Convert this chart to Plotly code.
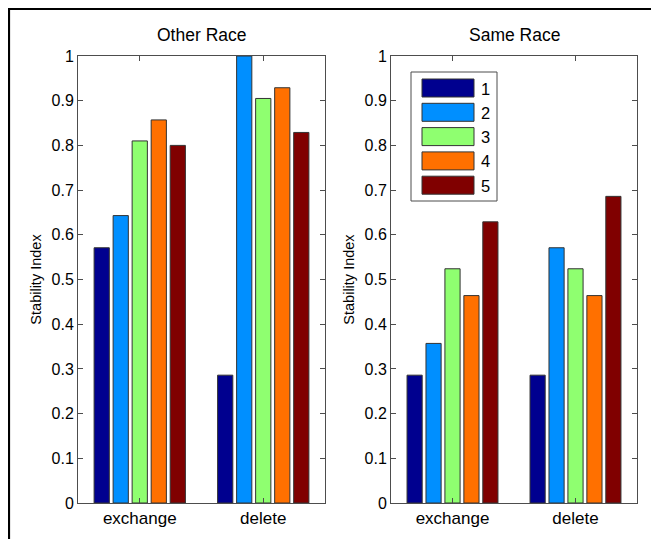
import plotly.graph_objects as go

W, H = 659, 539
OFF = 8  # page body margin: screen = paper + 8

categories = ["exchange", "delete"]
series_names = ["1", "2", "3", "4", "5"]
colors = ["#00008F", "#008FFF", "#8FFF70", "#FF7000", "#800000"]

other_race = {
    "1": [0.571, 0.286],
    "2": [0.643, 1.000],
    "3": [0.810, 0.905],
    "4": [0.857, 0.929],
    "5": [0.800, 0.829],
}
same_race = {
    "1": [0.286, 0.286],
    "2": [0.357, 0.571],
    "3": [0.524, 0.524],
    "4": [0.464, 0.464],
    "5": [0.629, 0.686],
}

titles = ["Other Race", "Same Race"]
ytick_vals = [0, 0.1, 0.2, 0.3, 0.4, 0.5, 0.6, 0.7, 0.8, 0.9, 1]
ytick_text = ["0", "0.1", "0.2", "0.3", "0.4", "0.5", "0.6", "0.7", "0.8", "0.9", "1"]

FONT = "Liberation Sans, Arial, sans-serif"
AX = "#4d4d4d"


def px(x):
    return (x - OFF) / W


def py(y):
    return 1 - (y - OFF) / H


fig = go.Figure()

for i, name in enumerate(series_names):
    fig.add_trace(go.Bar(x=categories, y=other_race[name], name=name,
                         marker=dict(color=colors[i], line=dict(color="#333333", width=1)),
                         xaxis="x", yaxis="y", showlegend=False, hoverinfo="skip"))
for i, name in enumerate(series_names):
    fig.add_trace(go.Bar(x=categories, y=same_race[name], name=name,
                         marker=dict(color=colors[i], line=dict(color="#333333", width=1)),
                         xaxis="x2", yaxis="y2", showlegend=False, hoverinfo="skip"))

top, bottom = 56, 503
xdoms = [(78, 325), (391, 637)]

axis_common = dict(showline=True, linecolor=AX, linewidth=1, mirror="ticks",
                   ticks="inside", ticklen=5, tickcolor=AX, showgrid=False, zeroline=False,
                   automargin=False)

layout = dict(
    template="none",
    width=W, height=H, margin=dict(l=0, r=0, t=0, b=0, pad=0, autoexpand=False),
    paper_bgcolor="white", plot_bgcolor="white",
    barmode="group", bargap=0.23, bargroupgap=0.2,
    showlegend=False,
)
for k, (x0, x1) in enumerate(xdoms):
    sfx = "" if k == 0 else str(k + 1)
    layout["xaxis" + sfx] = dict(domain=[px(x0), px(x1)], anchor="y" + sfx,
                                 type="category", range=[-0.5, 1.5],
                                 tickfont=dict(family=FONT, size=17, color="#000"),
                                 **axis_common)
    layout["yaxis" + sfx] = dict(domain=[py(bottom), py(top)], anchor="x" + sfx,
                                 range=[0, 1], tickvals=ytick_vals, ticktext=ytick_text,
                                 tickfont=dict(family=FONT, size=16, color="#000"),
                                 title=dict(text="Stability Index", standoff=6,
                                            font=dict(family=FONT, size=14.5, color="#000")),
                                 **axis_common)
fig.update_layout(**layout)

annotations = []
for k, (x0, x1) in enumerate(xdoms):
    annotations.append(dict(text=titles[k], x=px((x0 + x1) / 2), y=py(35.5), xref="paper", yref="paper",
                            showarrow=False, xanchor="center", yanchor="middle",
                            font=dict(family=FONT, size=17.5, color="#000")))

shapes = []
# figure border (top and left)
shapes.append(dict(type="line", xref="paper", yref="paper", x0=0, x1=1, y0=1 - 1 / H, y1=1 - 1 / H,
                   line=dict(color="black", width=2.2)))
shapes.append(dict(type="line", xref="paper", yref="paper", x0=1 / W, x1=1 / W, y0=1, y1=0,
                   line=dict(color="black", width=2.2)))

# custom legend
shapes.append(dict(type="rect", xref="paper", yref="paper", x0=px(411), x1=px(497), y0=py(201), y1=py(72),
                   line=dict(color=AX, width=1), fillcolor="white", layer="above"))
entry_tops = [79, 103.3, 127.6, 151.9, 176.2]
for i, name in enumerate(series_names):
    t = entry_tops[i]
    shapes.append(dict(type="rect", xref="paper", yref="paper", x0=px(422), x1=px(474),
                       y0=py(t + 18), y1=py(t), fillcolor=colors[i],
                       line=dict(color="#333333", width=1), layer="above"))
    annotations.append(dict(text=name, x=px(479), y=py(t + 9.5), xref="paper", yref="paper",
                            showarrow=False, xanchor="left", yanchor="middle",
                            font=dict(family=FONT, size=16.5, color="#000")))

fig.update_layout(shapes=shapes, annotations=annotations)

fig.write_html("out.html")
